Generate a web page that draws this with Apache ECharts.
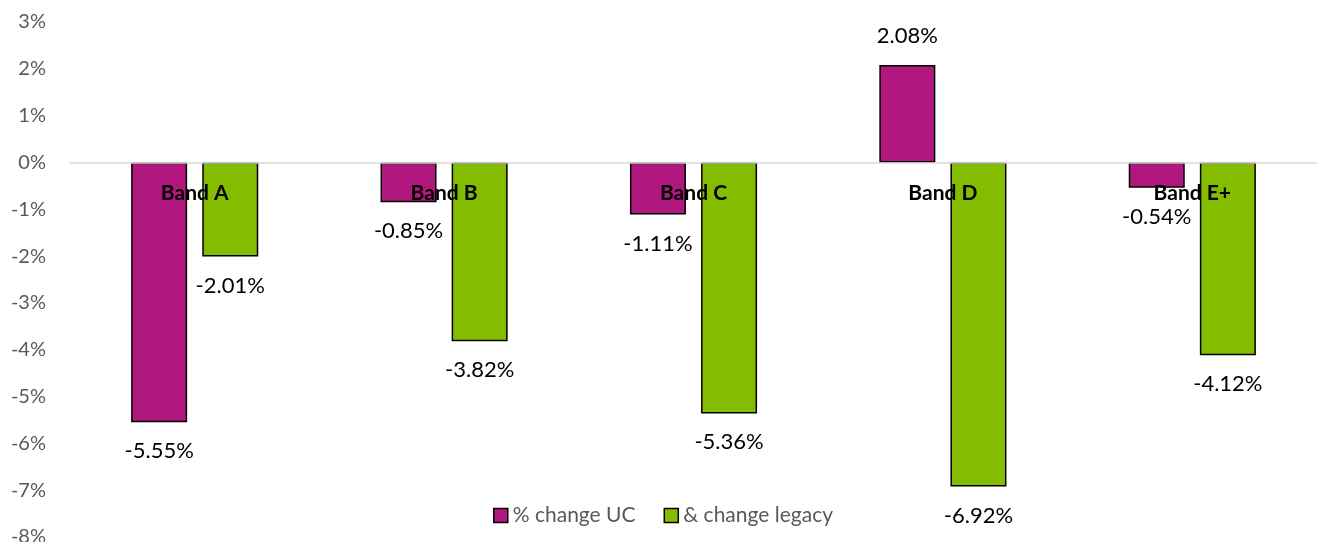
<!DOCTYPE html>
<html>
<head>
<meta charset="utf-8">
<script src="https://cdn.jsdelivr.net/npm/echarts@6/dist/echarts.min.js"></script>
<style>html,body{margin:0;padding:0;background:#fff}#c{width:1317px;height:542px}</style>
</head>
<body>
<div id="c"></div>
<script>
const categories = ['Band A', 'Band B', 'Band C', 'Band D', 'Band E+'];
const seriesNames = ['% change UC', '& change legacy'];
const ucValues = [-5.55, -0.85, -1.11, 2.08, -0.54];
const legacyValues = [-2.01, -3.82, -5.36, -6.92, -4.12];
const colors = ['#B0177F', '#84BD00'];
const yMin = -8, yMax = 3;

const H = 542, gridTop = 22, gridBottom = 5;
const gridH = H - gridTop - gridBottom;
const zeroOffset = -((0 - yMin) / (yMax - yMin)) * gridH;

function items(vals) {
  return vals.map(v => ({ value: v, label: { position: v >= 0 ? 'top' : 'bottom' } }));
}
function mkSeries(name, vals, color) {
  return {
    name: name,
    type: 'bar',
    data: items(vals),
    barWidth: 56,
    barGap: '27%',
    itemStyle: { color: color, borderColor: '#000', borderWidth: 1.5 },
    label: {
      show: true,
      distance: 18,
      color: '#000',
      fontFamily: 'Lato',
      fontSize: 22,
      formatter: p => p.value.toFixed(2) + '%'
    }
  };
}
const chart = echarts.init(document.getElementById('c'));
chart.setOption({
  animation: false,
  textStyle: { fontFamily: 'Lato' },
  grid: { left: 70, right: 0, top: gridTop, bottom: gridBottom, containLabel: false, outerBoundsMode: 'none' },
  legend: {
    data: seriesNames,
    left: 488, top: 500,
    itemWidth: 14, itemHeight: 14, itemGap: 28,
    icon: 'rect',
    itemStyle: { borderColor: '#000', borderWidth: 1.5 },
    textStyle: { color: '#595959', fontSize: 21, fontFamily: 'Lato' }
  },
  xAxis: {
    type: 'category',
    data: categories,
    z: 10,
    position: 'bottom',
    offset: zeroOffset,
    axisLine: { onZero: false, lineStyle: { color: '#D9D9D9', width: 1.5 } },
    axisTick: { show: false },
    axisLabel: { color: '#000', fontWeight: 'bold', fontSize: 21, fontFamily: 'Lato', margin: 20 }
  },
  yAxis: {
    type: 'value',
    min: yMin, max: yMax, interval: 1,
    axisLine: { show: false },
    axisTick: { show: false },
    splitLine: { show: false },
    axisLabel: { color: '#595959', fontSize: 20, fontFamily: 'Lato', margin: 24, formatter: '{value}%' }
  },
  series: [
    mkSeries(seriesNames[0], ucValues, colors[0]),
    mkSeries(seriesNames[1], legacyValues, colors[1])
  ]
});
</script>
</body>
</html>
